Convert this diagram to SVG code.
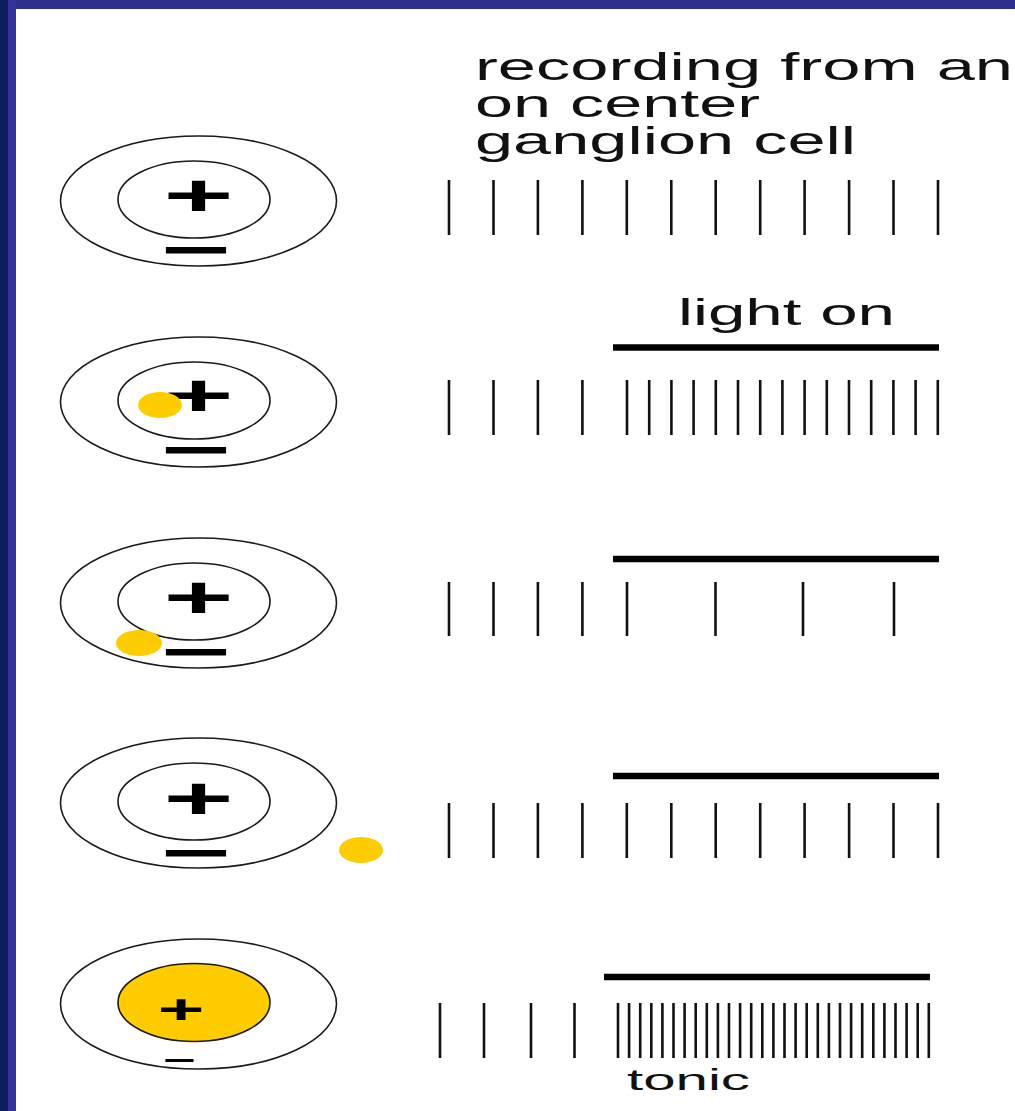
<svg xmlns="http://www.w3.org/2000/svg" xmlns:xlink="http://www.w3.org/1999/xlink" width="1015" height="1111" viewBox="0 0 1015 1111">
<style>
.ring{fill:none;stroke:#1a1a1a;stroke-width:1.6}
.spk{fill:none;stroke:#111;stroke-width:2.6}
.bar{stroke:#000;stroke-width:6.5}
.dot{fill:#FFCC00}
.sign{font-family:"Liberation Sans",Arial,sans-serif;font-weight:bold;text-anchor:middle;fill:#000}
.lbl{font-family:"Liberation Sans",Arial,sans-serif;fill:#111}
</style>
<defs>
<g id="rings">
<ellipse class="ring" cx="0" cy="0" rx="138" ry="65"/>
<ellipse class="ring" cx="-4.5" cy="-1.5" rx="76" ry="38.5"/>
</g>
</defs>
<rect x="0" y="0" width="1015" height="1111" fill="#ffffff"/>
<rect x="0" y="0" width="1015" height="9" fill="#2e2e8e"/>
<rect x="8" y="0" width="8" height="1111" fill="#333399"/>
<rect x="0" y="0" width="8" height="1111" fill="#0c1f5c"/>

<g id="title">
<text class="lbl" x="475" y="80" font-size="39" textLength="538" lengthAdjust="spacingAndGlyphs">recording from an</text>
<text class="lbl" x="475" y="117" font-size="39" textLength="285" lengthAdjust="spacingAndGlyphs">on center</text>
<text class="lbl" x="475" y="154" font-size="39" textLength="381" lengthAdjust="spacingAndGlyphs">ganglion cell</text>
</g>

<g id="row1">
<use xlink:href="#rings" href="#rings" transform="translate(198.5,201)"/>
<text class="sign" transform="translate(198.5,215.5) scale(2,1)" font-size="60">+</text>
<text class="sign" transform="translate(195.5,269.5) scale(2,1)" font-size="60">−</text>
<path class="spk" d="M449,180V235M493.5,180V235M537.9,180V235M582.4,180V235M626.8,180V235M671.3,180V235M715.7,180V235M760.2,180V235M804.6,180V235M849.1,180V235M893.5,180V235M938,180V235"/>
</g>

<g id="row2">
<use xlink:href="#rings" href="#rings" transform="translate(198.5,402)"/>
<text class="sign" transform="translate(198.5,416) scale(2,1)" font-size="60">+</text>
<text class="sign" transform="translate(195.5,470) scale(2,1)" font-size="60">−</text>
<ellipse class="dot" cx="160" cy="405" rx="22" ry="13"/>
<text class="lbl" x="678" y="325" font-size="36" textLength="217" lengthAdjust="spacingAndGlyphs">light on</text>
<line class="bar" x1="613" y1="347.5" x2="939" y2="347.5"/>
<path class="spk" d="M449,380V435M493.5,380V435M537.9,380V435M582.4,380V435M627,380V435M649.2,380V435M671.4,380V435M693.6,380V435M715.8,380V435M738,380V435M760.2,380V435M782.4,380V435M804.6,380V435M826.8,380V435M849,380V435M871.2,380V435M893.4,380V435M915.6,380V435M937.8,380V435"/>
</g>

<g id="row3">
<use xlink:href="#rings" href="#rings" transform="translate(198.5,603)"/>
<text class="sign" transform="translate(198.5,618) scale(2,1)" font-size="60">+</text>
<text class="sign" transform="translate(195.5,672) scale(2,1)" font-size="60">−</text>
<ellipse class="dot" cx="139" cy="643" rx="23" ry="13"/>
<line class="bar" x1="613" y1="559" x2="939" y2="559"/>
<path class="spk" d="M449,582V636M493.5,582V636M537.9,582V636M582.4,582V636M627,582V636M715.5,582V636M803,582V636M894,582V636"/>
</g>

<g id="row4">
<use xlink:href="#rings" href="#rings" transform="translate(198.5,803)"/>
<text class="sign" transform="translate(198.5,819) scale(2,1)" font-size="60">+</text>
<text class="sign" transform="translate(195.5,872.5) scale(2,1)" font-size="60">−</text>
<ellipse class="dot" cx="361" cy="850" rx="22" ry="13"/>
<line class="bar" x1="613" y1="776" x2="939" y2="776"/>
<path class="spk" d="M449,803V858M493.5,803V858M537.9,803V858M582.4,803V858M626.8,803V858M671.3,803V858M715.7,803V858M760.2,803V858M804.6,803V858M849.1,803V858M893.5,803V858M938,803V858"/>
</g>

<g id="row5">
<ellipse class="ring" cx="198.5" cy="1004" rx="138" ry="65"/>
<ellipse class="ring" cx="194" cy="1002.5" rx="76" ry="39" style="fill:#FFCC00"/>
<text class="sign" transform="translate(181,1022.5) scale(2,1)" font-size="40">+</text>
<text class="sign" transform="translate(179.5,1070) scale(2,1)" font-size="28">−</text>
<line class="bar" x1="604" y1="977" x2="930" y2="977"/>
<path class="spk" d="M440,1003V1058M484,1003V1058M531,1003V1058M574.5,1003V1058M618,1003V1058M629.1,1003V1058M640.2,1003V1058M651.3,1003V1058M662.4,1003V1058M673.5,1003V1058M684.6,1003V1058M695.7,1003V1058M706.8,1003V1058M717.9,1003V1058M729,1003V1058M740.1,1003V1058M751.2,1003V1058M762.3,1003V1058M773.4,1003V1058M784.5,1003V1058M795.6,1003V1058M806.7,1003V1058M817.8,1003V1058M828.9,1003V1058M840,1003V1058M851.1,1003V1058M862.2,1003V1058M873.3,1003V1058M884.4,1003V1058M895.5,1003V1058M906.6,1003V1058M917.7,1003V1058M928.8,1003V1058"/>
<text class="lbl" x="627" y="1090" font-size="29" textLength="123" lengthAdjust="spacingAndGlyphs">tonic</text>
</g>
</svg>
